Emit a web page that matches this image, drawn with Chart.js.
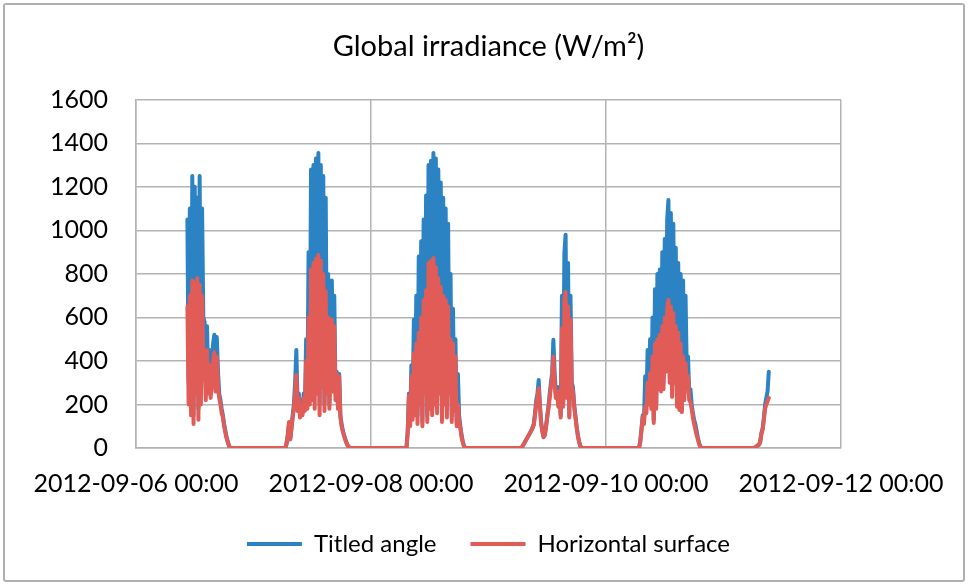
<!DOCTYPE html>
<html lang="en">

<head>
    <meta charset="UTF-8">
    <title>Global irradiance</title>
    <script src="https://cdn.jsdelivr.net/npm/chart.js"></script>
    <style>
        body {
            margin: 0;
            background: #fff;
        }

        #chart {
            position: absolute;
            left: 0;
            top: 0;
        }

        .frame {
            position: absolute;
            left: 3px;
            top: 3px;
            width: 958px;
            height: 575px;
            border: 2px solid #b0b0b0;
            border-radius: 3px;
            pointer-events: none;
        }
    </style>
</head>

<body>
    <canvas id="chart" width="968" height="584"></canvas>
    <div class="frame"></div>

    <script>
        // hours since 2012-09-06 00:00 where each day's readings begin (15 min steps)
        const dayStarts = [10.5, 30.5, 55.25, 78.75, 102.75, 126.25];
        const xTickHours = [0, 48, 96, 144];
        const xTickLabels = ['2012-09-06 00:00', '2012-09-08 00:00', '2012-09-10 00:00', '2012-09-12 00:00'];

        // Titled angle (W/m²)
        const tiltedSep06 = [1050, 300, 1100, 200, 1250, 150, 1200, 400, 1150, 180, 1250, 300, 1100, 600, 580, 350, 560, 300,
            450, 250, 350, 480, 520, 300, 510, 350, 250, 220, 180, 150, 110, 80, 50, 30, 10, 0];
        const tiltedSep07 = [0, 20, 60, 110, 40, 90, 150, 200, 300, 450, 200, 250, 150, 220, 160, 250, 180, 500, 200, 900,
            250, 1280, 300, 1300, 250, 1330, 300, 1355, 200, 1300, 350, 1250, 200, 1150, 300, 800, 200, 500, 770, 300,
            700, 250, 350, 200, 340, 150, 110, 80, 60, 40, 25, 12, 5, 0];
        const tiltedSep08 = [0, 80, 250, 120, 380, 150, 590, 200, 700, 150, 880, 250, 950, 120, 1050, 300, 1160, 150, 1300, 200,
            1320, 170, 1355, 250, 1330, 200, 1280, 300, 1220, 150, 1150, 250, 1100, 180, 1030, 300, 800, 150, 640, 200,
            500, 120, 340, 150, 100, 60, 30, 10, 0];
        const tiltedSep09 = [0, 10, 20, 30, 40, 50, 60, 70, 80, 95, 110, 160, 220, 250, 313, 200, 120, 80, 50, 60,
            100, 150, 190, 250, 300, 345, 497, 350, 250, 280, 200, 280, 150, 700, 200, 895, 980, 250, 850, 150,
            700, 300, 280, 200, 150, 100, 60, 30, 10, 0];
        const tiltedSep10 = [0, 30, 90, 150, 120, 330, 200, 450, 250, 500, 200, 600, 130, 730, 200, 800, 300, 820, 280, 900,
            300, 960, 400, 1050, 1140, 350, 1080, 260, 1030, 350, 920, 220, 850, 200, 800, 180, 770, 250, 700, 350,
            420, 250, 270, 200, 160, 130, 110, 80, 50, 25, 8, 0];
        const tiltedSep11 = [0, 3, 8, 12, 15, 30, 70, 90, 140, 200, 230, 260, 350];

        // Horizontal surface (W/m²)
        const horizontalSep06 = [650, 200, 700, 150, 770, 110, 760, 250, 780, 130, 750, 200, 700, 420, 400, 220, 450, 250,
            380, 230, 300, 400, 440, 260, 420, 280, 230, 200, 160, 140, 100, 70, 45, 25, 10, 0];
        const horizontalSep07 = [0, 20, 60, 120, 40, 90, 140, 180, 250, 335, 170, 230, 140, 200, 150, 230, 170, 400, 180, 600,
            200, 820, 220, 850, 180, 870, 250, 887, 150, 860, 280, 800, 170, 720, 250, 600, 180, 420, 590, 260,
            560, 220, 340, 180, 330, 140, 100, 75, 55, 38, 22, 10, 4, 0];
        const horizontalSep08 = [0, 70, 240, 100, 330, 130, 435, 150, 480, 110, 530, 200, 600, 100, 680, 250, 725, 120, 850, 180,
            860, 150, 873, 200, 830, 160, 780, 250, 740, 120, 700, 200, 680, 140, 650, 250, 500, 120, 480, 170,
            420, 100, 200, 120, 90, 50, 25, 8, 0];
        const horizontalSep09 = [0, 10, 20, 30, 40, 50, 60, 70, 80, 90, 105, 150, 200, 230, 275, 190, 110, 75, 50, 60,
            95, 140, 180, 230, 280, 320, 420, 300, 230, 260, 190, 260, 140, 550, 190, 680, 717, 230, 650, 140,
            590, 280, 260, 190, 140, 95, 55, 28, 10, 0];
        const horizontalSep10 = [0, 28, 80, 143, 110, 190, 160, 300, 200, 343, 180, 420, 115, 480, 180, 500, 270, 520, 260, 560,
            270, 600, 350, 640, 680, 300, 650, 235, 620, 300, 560, 190, 530, 175, 480, 165, 420, 220, 390, 300,
            330, 220, 210, 180, 140, 110, 85, 60, 40, 20, 6, 0];
        const horizontalSep11 = [0, 3, 8, 12, 15, 28, 65, 85, 130, 180, 200, 215, 230];

        const tiltedDays = [tiltedSep06, tiltedSep07, tiltedSep08, tiltedSep09, tiltedSep10, tiltedSep11];
        const horizontalDays = [horizontalSep06, horizontalSep07, horizontalSep08, horizontalSep09, horizontalSep10, horizontalSep11];

        function toPoints(days) {
            const pts = [];
            days.forEach((vals, d) => {
                vals.forEach((v, i) => pts.push({ x: dayStarts[d] + i * 0.25, y: v }));
            });
            return pts;
        }

        const gridColor = '#b3b3b3';
        Chart.defaults.font.family = "Lato, 'Open Sans', sans-serif";
        Chart.defaults.color = '#000';

        new Chart(document.getElementById('chart').getContext('2d'), {
            type: 'line',
            data: {
                datasets: [{
                    label: 'Titled angle',
                    data: toPoints(tiltedDays),
                    borderColor: '#2b83c3',
                    backgroundColor: '#2b83c3',
                    borderWidth: 4,
                    pointRadius: 0,
                    borderJoinStyle: 'round',
                    borderCapStyle: 'round',
                    order: 2
                }, {
                    label: 'Horizontal surface',
                    data: toPoints(horizontalDays),
                    borderColor: '#e15b57',
                    backgroundColor: '#e15b57',
                    borderWidth: 4,
                    pointRadius: 0,
                    borderJoinStyle: 'round',
                    borderCapStyle: 'round',
                    order: 1
                }]
            },
            options: {
                responsive: false,
                animation: false,
                layout: { padding: { left: 0, right: 127, top: 0, bottom: 18 } },
                scales: {
                    x: {
                        type: 'linear',
                        min: 0,
                        max: 144,
                        afterBuildTicks: s => { s.ticks = xTickHours.map(v => ({ value: v })); },
                        afterFit: s => { s.height = 50; },
                        ticks: {
                            callback: (v, i) => xTickLabels[i],
                            maxRotation: 0,
                            autoSkip: false,
                            padding: 21,
                            font: { size: 25 }
                        },
                        grid: { color: gridColor, lineWidth: 1.5, drawTicks: false },
                        border: { color: gridColor, width: 1.5 }
                    },
                    y: {
                        min: 0,
                        max: 1600,
                        afterFit: s => { s.width = 136; },
                        ticks: {
                            stepSize: 200,
                            padding: 28,
                            font: { size: 25 },
                            callback: v => String(v)
                        },
                        grid: { color: gridColor, lineWidth: 1.5, drawTicks: false },
                        border: { color: gridColor, width: 1.5 }
                    }
                },
                plugins: {
                    title: {
                        display: true,
                        text: 'Global irradiance (W/m²)',
                        fullSize: false,
                        font: { size: 29, weight: 'normal' },
                        padding: { top: 29, bottom: 36 }
                    },
                    legend: {
                        position: 'bottom',
                        fullSize: false,
                        labels: {
                            usePointStyle: true,
                            pointStyle: 'line',
                            pointStyleWidth: 55,
                            padding: 34,
                            font: { size: 24 },
                            sort: (a, b) => a.datasetIndex - b.datasetIndex
                        }
                    },
                    tooltip: { enabled: false }
                }
            }
        });
    </script>
</body>
</html>
